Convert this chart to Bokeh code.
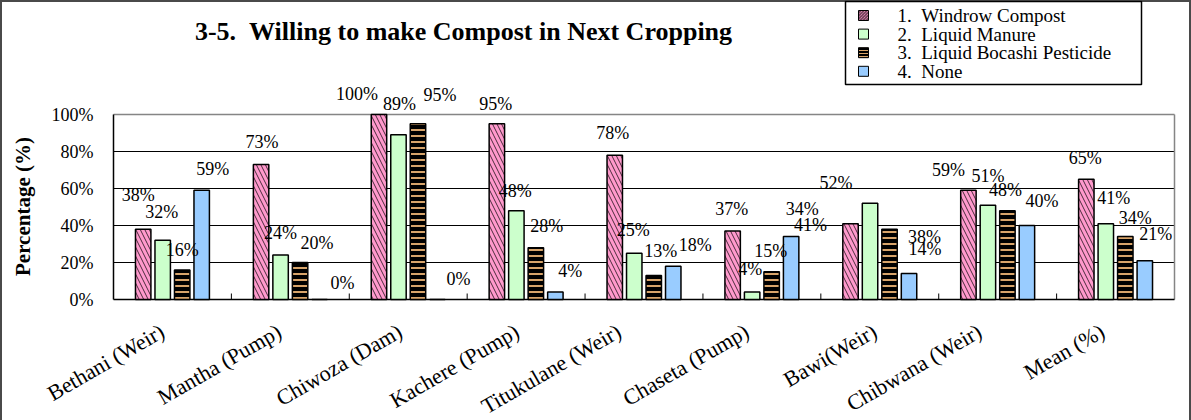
import math
import numpy as np
from bokeh.plotting import figure
from bokeh.core.properties import value
from bokeh.models import (ColumnDataSource, LabelSet, Label, BoxAnnotation, Range1d)
from bokeh.embed import file_html
from bokeh.resources import INLINE

# ---- data -------------------------------------------------------------
categories = ["Bethani (Weir)", "Mantha (Pump)", "Chiwoza (Dam)", "Kachere (Pump)",
              "Titukulane (Weir)", "Chaseta (Pump)", "Bawi(Weir)", "Chibwana (Weir)",
              "Mean (%)"]
series_names = ["1.\u00a0\u00a0Windrow Compost", "2.\u00a0\u00a0Liquid Manure",
                "3.\u00a0\u00a0Liquid Bocashi Pesticide", "4.\u00a0\u00a0None"]
windrow = [38, 73, 100, 95, 78, 37, 41, 59, 65]
liquid_manure = [32, 24, 89, 48, 25, 4, 52, 51, 41]
bocashi = [16, 20, 95, 28, 13, 15, 38, 48, 34]
no_compost = [59, 0, 0, 4, 18, 34, 14, 40, 21]
y_ticks = [0, 20, 40, 60, 80, 100]

# ---- layout of the value labels (px nudges from each bar's top centre) --
label_dx = [
    [-5, 1, -22, -1, -2, -1, -40, -20, -1],
    [-1, 0, 1, -1, -1, -2, -34, 0, 8],
    [0, 17, 22, 11, 7, -1, 35, -2, 10],
    [11, 23, 21, 15, 22, 11, 16, 15, 11],
]
label_dy = [
    [34, 22, 21, 20, 22, 22, -1, 20, 21],
    [28, 22, 31, 20, 23, 23, 20, 29, 26],
    [20, 20, 29, 22, 24, 21, -8, 21, 19],
    [21, 17, 21, 21, 21, 28, 25, 25, 27],
]
# horizontal nudge (px) of each slanted category name
cat_dx = [-10, -11, -8, -9, -25, -15, -5, -18, -13]

# ---- styles -----------------------------------------------------------
FONT = "Liberation Serif"
fills = ["#FF99CC", "#CCFFCC", "#000000", "#99CCFF"]
hatch_patterns = ["\\", " ", "-", " "]
hatch_colors = ["#4a2c3c", "#CCFFCC", "#D8A46A", "#99CCFF"]
hatch_scales = [9, 5, 6, 5]
hatch_weights = [1.0, 1, 2, 1]

values = [windrow, liquid_manure, bocashi, no_compost]
n = len(categories)
centers = np.arange(n) + 0.5
boundaries = list(range(1, n))
bar_w = 0.131
pitch = 0.1654

# The frame is the whole canvas; the plot area (0..n, 0..100 %) sits inside
# it at x 113..1174 px and y 114..299 px, so every text can be placed freely.
CANVAS_W, CANVAS_H = 1191, 420
AREA_LEFT, AREA_RIGHT = 113, 1174
AXIS_Y = 299
PX_PER_PCT = 1.85
px_per_cat = (AREA_RIGHT - AREA_LEFT) / n
x_range = Range1d(-AREA_LEFT / px_per_cat, n + (CANVAS_W - AREA_RIGHT) / px_per_cat)
y_range = Range1d(-(CANVAS_H - AXIS_Y) / PX_PER_PCT, AXIS_Y / PX_PER_PCT)

p = figure(width=CANVAS_W, height=CANVAS_H, x_range=x_range, y_range=y_range,
           output_backend="svg", toolbar_location=None, tools="",
           x_axis_location=None, y_axis_location=None, min_border=0,
           border_fill_color=None, background_fill_color=None)
p.styles = {"background-color": "white",
            "box-shadow": "inset 2px 2px 0 0 #4a4a4a, inset -2px 0 0 0 #4a4a4a"}
p.outline_line_color = None
p.grid.visible = False

x_lo, x_hi = 0, n
y_lo, y_hi = y_ticks[0], y_ticks[-1]
inner = y_ticks[1:-1]

# gridlines, plot-area edges and axis lines
p.segment(x0=[x_lo] * len(inner), x1=[x_hi] * len(inner), y0=inner, y1=inner,
          line_color="black", line_width=1)
p.segment(x0=[x_lo, x_hi], x1=[x_hi, x_hi], y0=[y_hi, y_lo], y1=[y_hi, y_hi],
          line_color="#858585", line_width=1.5)
p.segment(x0=[x_lo, x_lo], x1=[x_lo, x_hi], y0=[y_lo, y_lo], y1=[y_hi, y_lo],
          line_color="black", line_width=1.5)

# short inward ticks between the groups
p.ray(x=boundaries, y=[y_lo] * len(boundaries), length=6, length_units="screen",
      angle=math.pi / 2, line_color="black", line_width=1)

# value axis tick labels and title
tick_src = ColumnDataSource(dict(x=[x_lo] * len(y_ticks), y=y_ticks,
                                 t=[f"{t}%" for t in y_ticks]))
p.add_layout(LabelSet(x="x", y="y", text="t", source=tick_src, x_offset=-20,
                      text_align="right", text_baseline="middle",
                      text_font=value(FONT), text_font_size="18px", text_color="black"))
p.add_layout(Label(x=22, y=CANVAS_H - 206, x_units="screen", y_units="screen",
                   text="Percentage (%)", angle=math.pi / 2, text_align="center",
                   text_baseline="middle", text_font=FONT, text_font_size="21px",
                   text_font_style="bold", text_color="black"))

# slanted category names under each group
cat_src = ColumnDataSource(dict(x=centers, y=[y_lo] * n, name=categories, dx=cat_dx))
p.add_layout(LabelSet(x="x", y="y", text="name", source=cat_src,
                      angle=math.radians(30), text_align="right", text_baseline="middle",
                      x_offset="dx", y_offset=-30, text_font=value(FONT),
                      text_font_size="22px", text_color="black"))

for j, vals in enumerate(values):
    src = ColumnDataSource(dict(
        x=centers + (j - 1.5) * pitch,
        top=vals,
        label=[f"{v}%" for v in vals],
        dx=label_dx[j],
        dy=label_dy[j],
    ))
    p.vbar(x="x", top="top", width=bar_w, source=src,
           fill_color=fills[j], line_color="black", line_width=1.5,
           hatch_pattern=hatch_patterns[j], hatch_color=hatch_colors[j],
           hatch_scale=hatch_scales[j], hatch_weight=hatch_weights[j])
    p.add_layout(LabelSet(x="x", y="top", text="label", x_offset="dx", y_offset="dy",
                          source=src, text_align="center", text_baseline="middle",
                          text_font=value(FONT), text_font_size="18px",
                          text_color="black"))

# ---- legend box (screen px, measured from the top of the canvas) --------
LEG_LEFT, LEG_RIGHT, LEG_TOP, LEG_BOTTOM = 845, 1141, 1, 84
ROW0, ROW_STEP = 15, 18.6
SW_X, SW_HALF, TEXT_X = 863, 5, 897


def sy(y_from_top):
    return CANVAS_H - y_from_top


p.add_layout(BoxAnnotation(left=LEG_LEFT, right=LEG_RIGHT, top=sy(LEG_TOP),
                           bottom=sy(LEG_BOTTOM), left_units="screen",
                           right_units="screen", top_units="screen",
                           bottom_units="screen", fill_color="white", fill_alpha=1,
                           line_color="black", line_width=1.5, line_alpha=1))
row_y = [ROW0 + ROW_STEP * i for i in range(len(series_names))]
for j, ry in enumerate(row_y):
    p.add_layout(BoxAnnotation(left=SW_X - SW_HALF, right=SW_X + SW_HALF,
                               top=sy(ry - SW_HALF), bottom=sy(ry + SW_HALF),
                               left_units="screen", right_units="screen",
                               top_units="screen", bottom_units="screen",
                               fill_color=fills[j], fill_alpha=1,
                               hatch_pattern=hatch_patterns[j],
                               hatch_color=hatch_colors[j], hatch_scale=3,
                               hatch_weight=1, line_color="black", line_width=1,
                               line_alpha=1))
leg_src = ColumnDataSource(dict(x=[TEXT_X] * len(series_names),
                                y=[sy(ry) for ry in row_y], name=series_names))
p.add_layout(LabelSet(x="x", y="y", text="name", source=leg_src, x_units="screen",
                      y_units="screen", text_align="left", text_baseline="middle",
                      text_font=value(FONT), text_font_size="19px", text_color="black"))

p.add_layout(Label(x=463, y=sy(31), x_units="screen", y_units="screen",
                   text="3-5.\u00a0\u00a0Willing to make Compost in Next Cropping",
                   text_align="center", text_baseline="middle",
                   text_font=FONT, text_font_size="26px", text_font_style="bold",
                   text_color="black"))

open("out.html", "w").write(file_html(p, INLINE))
